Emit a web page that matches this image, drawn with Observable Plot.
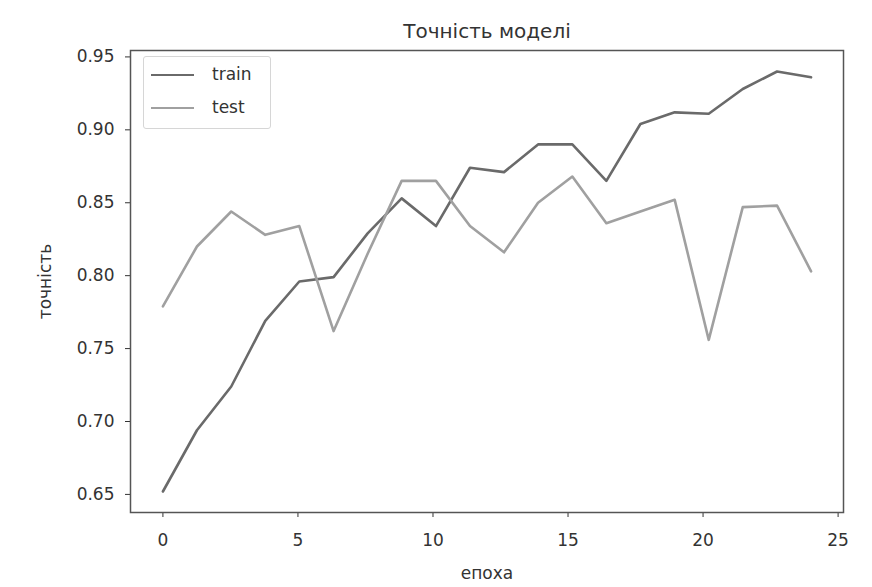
<!DOCTYPE html>
<html>
<head>
<meta charset="utf-8">
<script src="https://cdn.jsdelivr.net/npm/d3@7"></script>
<script src="https://cdn.jsdelivr.net/npm/@observablehq/plot@0.6"></script>
<style>
  html, body { margin: 0; padding: 0; background: #fff; }
  #wrap { position: relative; width: 872px; height: 587px; font-family: "DejaVu Sans", sans-serif; }
  #legend { position: absolute; left: 143px; top: 56px; width: 126px; height: 71px;
            border: 1px solid #d6d6d6; border-radius: 3px; background: rgba(255,255,255,0.85); }
  .sw { position: absolute; left: 7px; width: 43px; height: 0; border-top-style: solid; border-top-width: 2.6px; }
  .lb { position: absolute; left: 68px; font-size: 17px; color: #333; line-height: 20px; }
</style>
</head>
<body>
<div id="wrap"></div>
<script>
const titleText = "Точність моделі";
const xLabel = "епоха";
const yLabel = "точність";
const seriesNames = ["train", "test"];
const seriesColors = ["#6a6a6a", "#a0a0a0"];
const epochs = [0, 1.26, 2.53, 3.79, 5.05, 6.32, 7.58, 8.84, 10.11, 11.37, 12.63, 13.89, 15.16, 16.42, 17.68, 18.95, 20.21, 21.47, 22.74, 24];
const train = [0.652, 0.694, 0.724, 0.769, 0.796, 0.799, 0.829, 0.853, 0.834, 0.874, 0.871, 0.890, 0.890, 0.865, 0.904, 0.912, 0.911, 0.928, 0.940, 0.936];
const test  = [0.779, 0.820, 0.844, 0.828, 0.834, 0.762, 0.815, 0.865, 0.865, 0.834, 0.816, 0.850, 0.868, 0.836, 0.844, 0.852, 0.756, 0.847, 0.848, 0.803];
const xTicks = [0, 5, 10, 15, 20, 25];
const yTicks = [0.65, 0.70, 0.75, 0.80, 0.85, 0.90, 0.95];

const rows = [];
epochs.forEach((e, i) => {
  rows.push({epoch: e, acc: train[i], series: seriesNames[0]});
  rows.push({epoch: e, acc: test[i], series: seriesNames[1]});
});

function pad(ext) { const d = ext[1] - ext[0]; return [ext[0] - 0.05 * d, ext[1] + 0.05 * d]; }
const xDom = pad(d3.extent(epochs));
const yDom = pad(d3.extent(train.concat(test)));

const chart = Plot.plot({
  width: 872,
  height: 587,
  marginLeft: 130,
  marginRight: 29,
  marginTop: 50,
  marginBottom: 75,
  style: {fontFamily: "DejaVu Sans, sans-serif", fontSize: "17px", color: "#333", background: "#fff"},
  x: {domain: xDom, ticks: xTicks, tickFormat: d => String(d), tickSize: 5, tickPadding: 16,
      label: xLabel, labelAnchor: "center", labelOffset: 66, labelArrow: "none"},
  y: {domain: yDom, ticks: yTicks, tickFormat: ".2f", tickSize: 5, tickPadding: 11,
      label: yLabel, labelAnchor: "center", labelOffset: 92, labelArrow: "none"},
  color: {domain: seriesNames, range: seriesColors},
  marks: [
    Plot.line(rows, {x: "epoch", y: "acc", z: "series", stroke: "series", strokeWidth: 2.6}),
    Plot.frame({stroke: "#555", strokeWidth: 1.5}),
    Plot.text([titleText], {frameAnchor: "top", dy: -27, fontSize: 20, fill: "#333"})
  ]
});

const wrap = document.getElementById("wrap");
wrap.appendChild(chart);

const legend = document.createElement("div");
legend.id = "legend";
seriesNames.forEach((name, i) => {
  const top = 18 + i * 33;
  const sw = document.createElement("div");
  sw.className = "sw";
  sw.style.top = (top - 1) + "px";
  sw.style.borderTopColor = seriesColors[i];
  legend.appendChild(sw);
  const lb = document.createElement("div");
  lb.className = "lb";
  lb.style.top = (top - 11) + "px";
  lb.textContent = name;
  legend.appendChild(lb);
});
wrap.appendChild(legend);
</script>
</body>
</html>
